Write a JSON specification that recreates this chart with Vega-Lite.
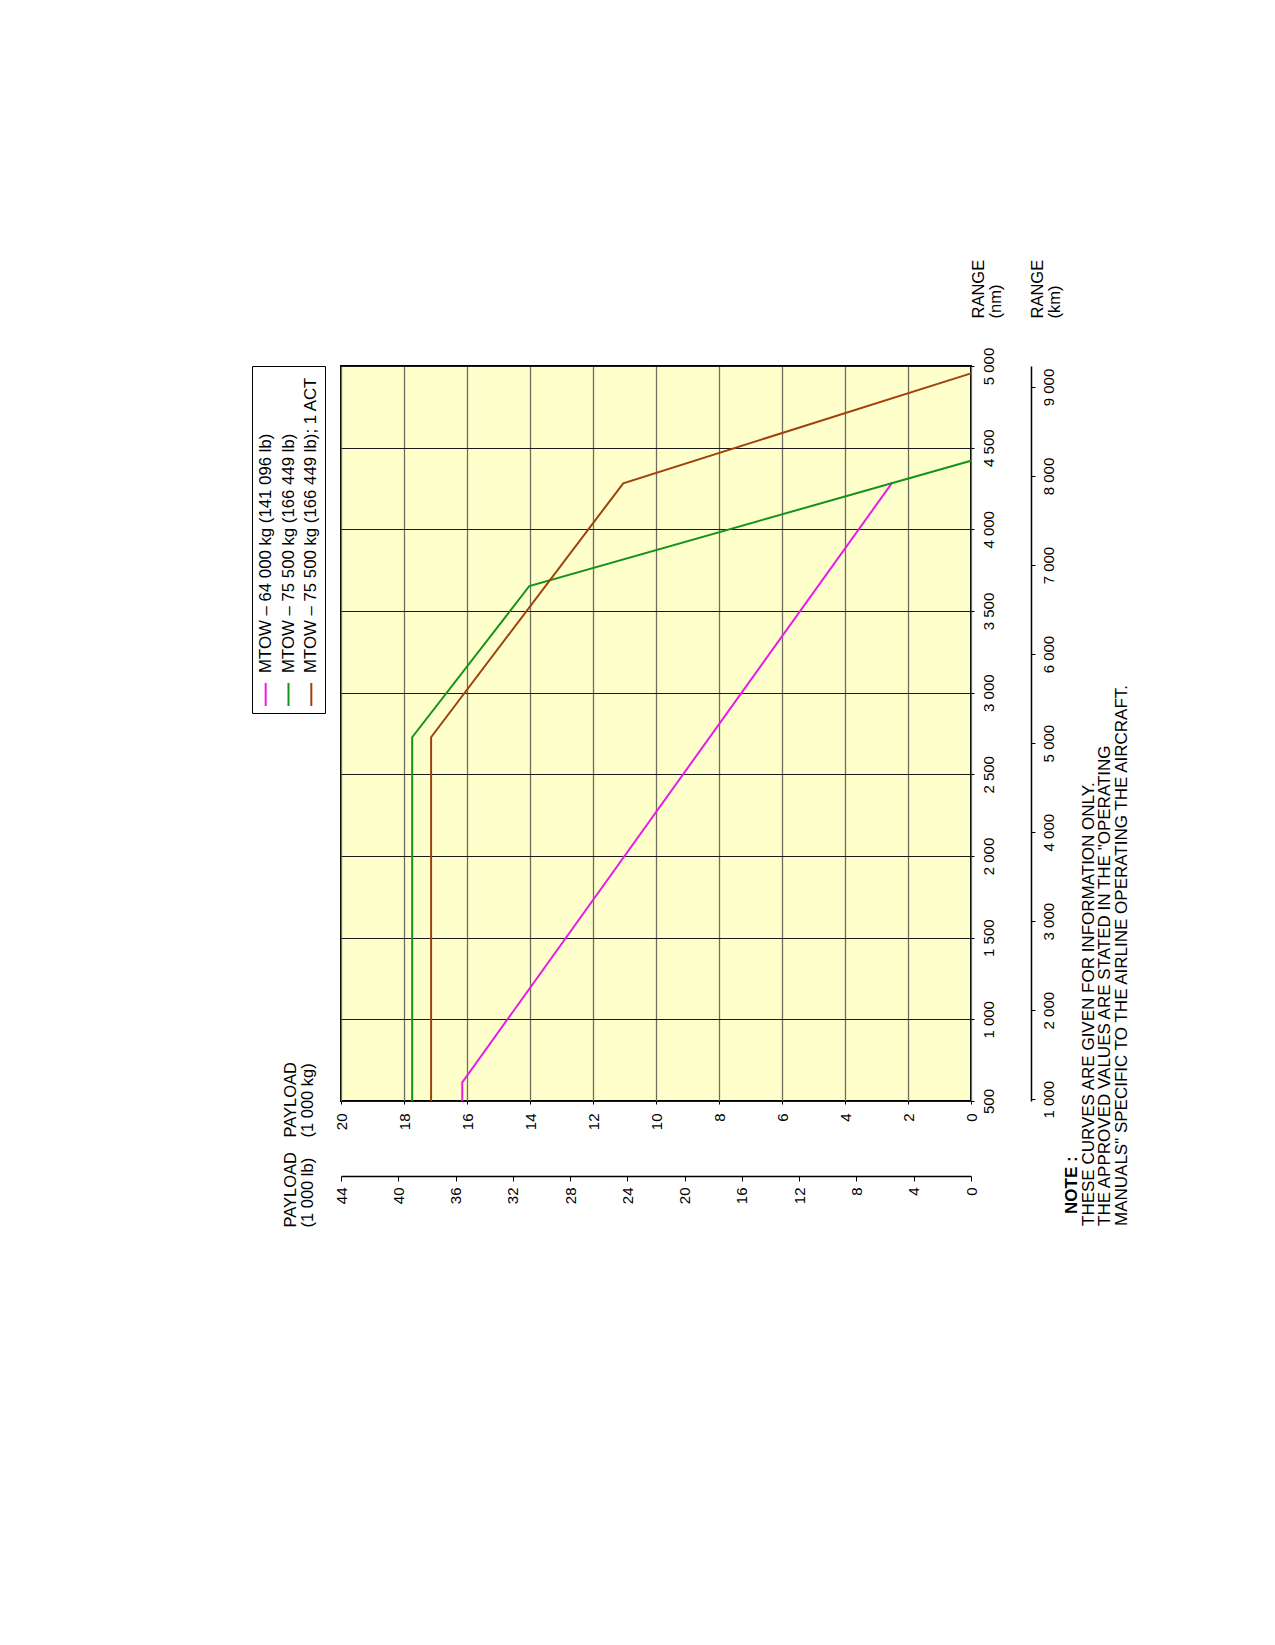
{
  "$schema": "https://vega.github.io/schema/vega-lite/v6.json",
  "autosize": {"type": "pad"},
  "padding": {"left": 251, "top": 258, "right": 5, "bottom": 5},
  "background": "white",
  "config": {
    "font": "Liberation Sans",
    "axis": {
      "labelFont": "Liberation Sans",
      "titleFont": "Liberation Sans",
      "labelColor": "black",
      "titleColor": "black",
      "titleFontWeight": "normal",
      "tickColor": "black",
      "labelFontSize": 15,
      "titleFontSize": 16.5,
      "titleLineHeight": 17
    },
    "text": {"font": "Liberation Sans", "color": "black"}
  },
  "datasets": {
    "curves": [
      {"series": "MTOW – 64 000 kg (141 096 lb)", "payload": 16.15, "range": 500},
      {"series": "MTOW – 64 000 kg (141 096 lb)", "payload": 16.15, "range": 614},
      {"series": "MTOW – 64 000 kg (141 096 lb)", "payload": 2.5, "range": 4286},
      {"series": "MTOW – 75 500 kg (166 449 lb)", "payload": 17.74, "range": 500},
      {"series": "MTOW – 75 500 kg (166 449 lb)", "payload": 17.74, "range": 2727},
      {"series": "MTOW – 75 500 kg (166 449 lb)", "payload": 14.02, "range": 3653},
      {"series": "MTOW – 75 500 kg (166 449 lb)", "payload": 0, "range": 4420},
      {"series": "MTOW – 75 500 kg (166 449 lb); 1 ACT", "payload": 17.14, "range": 500},
      {"series": "MTOW – 75 500 kg (166 449 lb); 1 ACT", "payload": 17.14, "range": 2727},
      {"series": "MTOW – 75 500 kg (166 449 lb); 1 ACT", "payload": 11.04, "range": 4282},
      {"series": "MTOW – 75 500 kg (166 449 lb); 1 ACT", "payload": 0, "range": 4955}
    ],
    "legend": [
      {"series": "MTOW – 64 000 kg (141 096 lb)"},
      {"series": "MTOW – 75 500 kg (166 449 lb)"},
      {"series": "MTOW – 75 500 kg (166 449 lb); 1 ACT"}
    ],
    "note": [
      {"line": 1, "kind": "head", "text": "NOTE :"},
      {"line": 2, "kind": "body", "text": "THESE CURVES ARE GIVEN FOR INFORMATION ONLY."},
      {"line": 3, "kind": "body", "text": "THE APPROVED VALUES ARE STATED IN THE \"OPERATING"},
      {"line": 4, "kind": "body", "text": "MANUALS\" SPECIFIC TO THE AIRLINE OPERATING THE AIRCRAFT."}
    ]
  },
  "bounds": "flush",
  "spacing": 16,
  "hconcat": [
    {
      "width": 73,
      "height": 347,
      "data": {"name": "legend"},
      "view": {"stroke": "black", "strokeWidth": 1, "fill": "white"},
      "layer": [
        {
          "mark": {"type": "rule", "strokeWidth": 2},
          "encoding": {
            "x": {"field": "series", "type": "nominal", "sort": null, "scale": {"type": "point", "padding": 0.6}, "axis": null},
            "y": {"value": 317},
            "y2": {"value": 340},
            "color": {
              "field": "series", "type": "nominal", "legend": null,
              "scale": {
                "domain": ["MTOW – 64 000 kg (141 096 lb)", "MTOW – 75 500 kg (166 449 lb)", "MTOW – 75 500 kg (166 449 lb); 1 ACT"],
                "range": ["#e81ce8", "#13921a", "#a0410d"]
              }
            }
          }
        },
        {
          "mark": {"type": "text", "angle": 270, "align": "left", "baseline": "middle", "fontSize": 16.8},
          "encoding": {
            "x": {"field": "series", "type": "nominal", "sort": null, "scale": {"type": "point", "padding": 0.6}, "axis": null},
            "y": {"value": 307},
            "text": {"field": "series"}
          }
        }
      ]
    },
    {
      "width": 630,
      "height": 735,
      "data": {"name": "curves"},
      "view": {"fill": "#FFFFCC", "stroke": "black", "strokeWidth": 2},
      "layer": [
        {
          "mark": {"type": "line", "strokeWidth": 2},
          "encoding": {
            "x": {
              "field": "payload", "type": "quantitative",
              "scale": {"domain": [0, 20], "reverse": true, "nice": false},
              "axis": {
                "orient": "bottom",
                "values": [0, 2, 4, 6, 8, 10, 12, 14, 16, 18, 20],
                "domain": false,
                "grid": true, "gridColor": "#6e6e60", "gridWidth": 1.3, "gridOpacity": 1,
                "tickSize": 3,
                "labelAngle": 270, "labelAlign": "right", "labelBaseline": "middle",
                "labelPadding": 9, "labelFlush": false, "labelOverlap": false,
                "title": ["PAYLOAD", "(1 000 kg)"],
                "titleAngle": 270, "titleAlign": "left", "titleBaseline": "middle",
                "titleX": -51, "titleY": 36
              }
            },
            "y": {
              "field": "range", "type": "quantitative",
              "scale": {"domain": [500, 5000], "nice": false, "zero": false},
              "axis": {
                "orient": "right",
                "values": [500, 1000, 1500, 2000, 2500, 3000, 3500, 4000, 4500, 5000],
                "labelExpr": "replace(format(datum.value, ','), ',', ' ')",
                "domain": false,
                "grid": true, "gridColor": "#1a1a1a", "gridWidth": 1, "gridOpacity": 1,
                "tickSize": 3,
                "labelAngle": 270, "labelAlign": "center", "labelBaseline": "middle",
                "labelPadding": 14, "labelOverlap": false,
                "title": ["RANGE", "(nm)"],
                "titleAngle": 270, "titleAlign": "left", "titleBaseline": "middle",
                "titleX": 7, "titleY": -48
              }
            },
            "color": {"field": "series", "type": "nominal", "legend": null},
            "order": {"field": "range", "type": "quantitative"}
          }
        },
        {
          "mark": {"type": "point", "opacity": 0},
          "encoding": {
            "x": {
              "datum": 0, "type": "quantitative",
              "scale": {"domain": [0, 44], "reverse": true, "nice": false},
              "axis": {
                "orient": "bottom", "offset": 75,
                "values": [0, 4, 8, 12, 16, 20, 24, 28, 32, 36, 40, 44],
                "domain": true, "domainColor": "black", "domainWidth": 1.5,
                "grid": false,
                "tickSize": 5,
                "labelAngle": 270, "labelAlign": "right", "labelBaseline": "middle",
                "labelPadding": 6, "labelFlush": false, "labelOverlap": false,
                "title": ["PAYLOAD", "(1 000 lb)"],
                "titleAngle": 270, "titleAlign": "left", "titleBaseline": "middle",
                "titleX": -51, "titleY": 51
              }
            },
            "y": {
              "datum": 1000, "type": "quantitative",
              "scale": {"domain": [980, 9236], "nice": false, "zero": false},
              "axis": {
                "orient": "right", "offset": 60,
                "values": [1000, 2000, 3000, 4000, 5000, 6000, 7000, 8000, 9000],
                "labelExpr": "replace(format(datum.value, ','), ',', ' ')",
                "domain": true, "domainColor": "black", "domainWidth": 1.5,
                "grid": false,
                "tickSize": 4,
                "labelAngle": 270, "labelAlign": "center", "labelBaseline": "middle",
                "labelPadding": 13, "labelOverlap": false,
                "title": ["RANGE", "(km)"],
                "titleAngle": 270, "titleAlign": "left", "titleBaseline": "middle",
                "titleX": 6, "titleY": -48
              }
            }
          }
        }
      ],
      "resolve": {"scale": {"x": "independent", "y": "independent"}}
    },
    {
      "width": 135,
      "height": 860,
      "data": {"name": "note"},
      "view": {"stroke": null},
      "layer": [
        {
          "transform": [{"filter": "datum.kind == 'head'"}],
          "mark": {"type": "text", "angle": 270, "align": "left", "baseline": "middle", "fontSize": 17, "fontWeight": "bold", "dx": 12},
          "encoding": {
            "x": {"field": "line", "type": "ordinal", "scale": {"type": "point", "padding": 0, "range": [85, 134.8], "domain": [1, 2, 3, 4]}, "axis": null},
            "y": {"value": 860},
            "text": {"field": "text"}
          }
        },
        {
          "transform": [{"filter": "datum.kind == 'body'"}],
          "mark": {"type": "text", "angle": 270, "align": "left", "baseline": "middle", "fontSize": 17},
          "encoding": {
            "x": {"field": "line", "type": "ordinal", "scale": {"type": "point", "padding": 0, "range": [85, 134.8], "domain": [1, 2, 3, 4]}, "axis": null},
            "y": {"value": 860},
            "text": {"field": "text"}
          }
        }
      ]
    }
  ]
}
